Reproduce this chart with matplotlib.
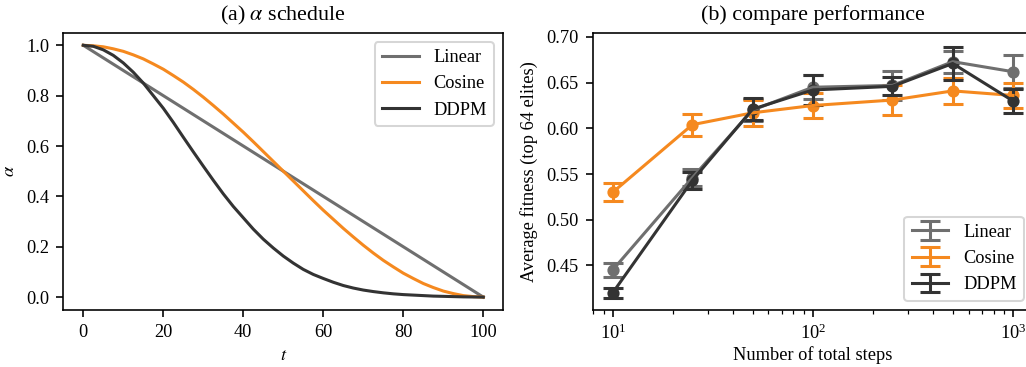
import numpy as np
import matplotlib
matplotlib.use("Agg")
import matplotlib.pyplot as plt
from matplotlib.ticker import MultipleLocator, FormatStrFormatter

plt.rcParams["font.family"] = "serif"
plt.rcParams["font.serif"] = ["Liberation Serif", "DejaVu Serif"]
plt.rcParams["mathtext.fontset"] = "stix"
plt.rcParams["font.size"] = 9

c_lin = "#6f6f6f"
c_cos = "#f5891f"
c_ddpm = "#333333"

# (a) alpha schedule, every 2.5 steps
t = np.arange(0, 100.1, 2.5)
t_lin = [0, 100]
a_linear = [1.0, 0.0]
a_cosine = [1.0, 0.998, 0.994, 0.986, 0.976, 0.962, 0.946, 0.926, 0.905, 0.880,
            0.854, 0.825, 0.794, 0.761, 0.727, 0.691, 0.655, 0.617, 0.578, 0.539,
            0.50, 0.461, 0.422, 0.383, 0.345, 0.309, 0.273, 0.239, 0.206, 0.175,
            0.146, 0.120, 0.095, 0.074, 0.054, 0.038, 0.024, 0.014, 0.006, 0.002, 0.0]
a_ddpm = [1.0, 0.996, 0.982, 0.96, 0.93, 0.893, 0.85, 0.80, 0.75, 0.694,
          0.635, 0.577, 0.52, 0.464, 0.41, 0.36, 0.315, 0.27, 0.23, 0.195,
          0.163, 0.135, 0.11, 0.09, 0.074, 0.059, 0.046, 0.036, 0.028, 0.022,
          0.017, 0.013, 0.01, 0.008, 0.006, 0.004, 0.003, 0.002, 0.001, 0.0005, 0.0]

# (b) compare performance
steps = [10, 25, 50, 100, 250, 500, 1000]
lin_mean = [0.445, 0.546, 0.620, 0.645, 0.647, 0.673, 0.662]
lin_err = [0.0075, 0.009, 0.012, 0.013, 0.016, 0.012, 0.018]
cos_mean = [0.530, 0.604, 0.617, 0.625, 0.631, 0.641, 0.636]
cos_err = [0.0097, 0.012, 0.0145, 0.014, 0.016, 0.0146, 0.0137]
ddpm_mean = [0.420, 0.543, 0.621, 0.642, 0.646, 0.671, 0.630]
ddpm_err = [0.0057, 0.0095, 0.012, 0.016, 0.010, 0.018, 0.013]

W, H = 1026, 367
dpi = 146.57
fig = plt.figure(figsize=(W / dpi, H / dpi), dpi=dpi)

ax1 = fig.add_axes([63.3 / W, 1 - 309.7 / H, 440 / W, 277 / H])
ax1.plot(t_lin, a_linear, color=c_lin, lw=1.5, label="Linear")
ax1.plot(t, a_cosine, color=c_cos, lw=1.5, label="Cosine")
ax1.plot(t, a_ddpm, color=c_ddpm, lw=1.5, label="DDPM")
ax1.set_xlim(-5, 105)
ax1.set_xlabel("$t$", labelpad=3)
ax1.set_ylabel(r"$\alpha$")
ax1.set_title(r"(a) $\alpha$ schedule")
ax1.legend(loc="upper right")

ax2 = fig.add_axes([592.7 / W, 1 - 309.7 / H, 440.3 / W, 277 / H])
kw = dict(lw=1.5, capsize=5, elinewidth=1.5, capthick=1.5)
for m, e, c, lab in [(lin_mean, lin_err, c_lin, "Linear"),
                     (cos_mean, cos_err, c_cos, "Cosine"),
                     (ddpm_mean, ddpm_err, c_ddpm, "DDPM")]:
    ax2.errorbar(steps, m, yerr=e, color=c, label=lab, **kw)
    ax2.plot(steps, m, "o", color=c, ms=5)
ax2.set_xscale("log")
ax2.set_xlim(10 ** 0.9, 10 ** 3.1)
ax2.set_ylim(0.4015, 0.7047)
ax2.yaxis.set_major_locator(MultipleLocator(0.05))
ax2.yaxis.set_major_formatter(FormatStrFormatter("%.2f"))
ax2.set_xlabel("Number of total steps", labelpad=1.5)
ax2.set_ylabel("Average fitness (top 64 elites)")
ax2.set_title("(b) compare performance")
ax2.legend(loc="lower right")

fig.savefig("out.png", dpi=dpi)
